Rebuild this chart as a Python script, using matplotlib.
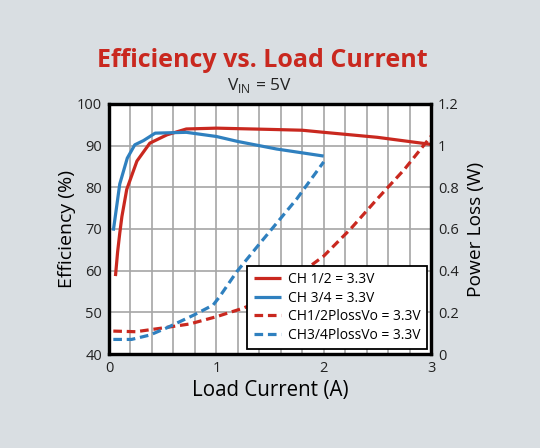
import matplotlib
matplotlib.use('Agg')
import matplotlib.pyplot as plt

plt.rcParams['font.family'] = ['Open Sans', 'DejaVu Sans']

# efficiency (%) vs load current (A)
ch12_current = [0.06, 0.08, 0.1, 0.12, 0.165, 0.26, 0.38, 0.54, 0.72, 1.0, 1.5, 1.8, 2.0, 2.5, 3.0]
ch12_eff = [58.7, 64.5, 69.0, 73.0, 79.5, 86.3, 90.6, 92.6, 94.0, 94.2, 93.9, 93.7, 93.2, 92.0, 90.3]
ch34_current = [0.04, 0.1, 0.17, 0.24, 0.32, 0.43, 0.72, 1.0, 1.2, 1.56, 2.0]
ch34_eff = [69.6, 80.8, 87.0, 90.2, 91.2, 93.0, 93.2, 92.2, 91.0, 89.2, 87.5]

# power loss (W)
ch12_loss_current = [0.04, 0.25, 0.5, 0.75, 1.0, 1.25, 1.5, 1.75, 2.0, 2.25, 2.5, 2.75, 3.0]
ch12_loss = [0.11, 0.107, 0.125, 0.144, 0.179, 0.22, 0.275, 0.375, 0.47, 0.6, 0.745, 0.885, 1.045]
ch34_loss_current = [0.04, 0.21, 0.38, 0.54, 0.79, 0.97, 1.03, 1.19, 1.38, 1.56, 1.75, 2.0]
ch34_loss = [0.07, 0.07, 0.091, 0.126, 0.187, 0.235, 0.275, 0.395, 0.515, 0.627, 0.745, 0.922]

red = '#c9281f'
blue = '#2f80bf'
bg = '#d9dee2'

fig = plt.figure(figsize=(5.4, 4.48), dpi=100, facecolor=bg)
ax = fig.add_axes([0.2019, 0.2098, 0.5963, 0.5581])
ax2 = ax.twinx()

l1, = ax.plot(ch12_current, ch12_eff, color=red, lw=2.3, solid_capstyle='butt', label='CH 1/2 = 3.3V')
l2, = ax.plot(ch34_current, ch34_eff, color=blue, lw=2.3, solid_capstyle='butt', label='CH 3/4 = 3.3V')
l3, = ax2.plot(ch12_loss_current, ch12_loss, color=red, lw=2.3, dashes=(2.7, 1.5), label='CH1/2PlossVo = 3.3V')
l4, = ax2.plot(ch34_loss_current, ch34_loss, color=blue, lw=2.3, dashes=(2.7, 1.5), label='CH3/4PlossVo = 3.3V')

ax.set_xlim(0, 3)
ax.set_ylim(40, 100)
ax2.set_ylim(0, 1.2)
ax.set_xticks([0, 1, 2, 3])
ax.set_xticks([i * 0.2 for i in range(16)], minor=True)
ax.set_yticks(range(40, 101, 10))
ax2.set_yticks([0, 0.2, 0.4, 0.6, 0.8, 1.0, 1.2])
ax2.set_yticklabels(['0', '0.2', '0.4', '0.6', '0.8', '1', '1.2'])

ax.grid(True, which='both', axis='x', color='#a6a6a6', lw=1.2)
ax.grid(True, which='major', axis='y', color='#a6a6a6', lw=1.2)
ax.set_axisbelow(True)

ax.tick_params(which='both', length=0, labelsize=10.5, pad=5, colors='#222222')
ax2.tick_params(length=0, labelsize=10.5, pad=5, colors='#222222')
for a in (ax, ax2):
    for s in a.spines.values():
        s.set_linewidth(2.3)
        s.set_color('black')

ax.set_xlabel('Load Current (A)', fontsize=14.8, labelpad=3)
ax.set_ylabel('Efficiency (%)', fontsize=14, labelpad=1)
ax2.set_ylabel('Power Loss (W)', fontsize=13.8, labelpad=6)

leg = ax2.legend(handles=[l1, l2, l3, l4], loc='lower right', bbox_to_anchor=(0.988, 0.02),
                 borderaxespad=0, fontsize=10, handlelength=2.0, handletextpad=0.5,
                 labelspacing=0.25, borderpad=0.45, fancybox=False, framealpha=1)
leg.get_frame().set_edgecolor('black')
leg.get_frame().set_linewidth(1.3)

fig.text(0.485, 0.866, 'Efficiency vs. Load Current', ha='center', va='center',
         fontsize=18, fontweight='bold', color=red)
fig.text(0.48, 0.81, r'V$_{\mathregular{IN}}$ = 5V', ha='center', va='center', fontsize=12.5, color='#222222')

fig.savefig('out.png', dpi=100, facecolor=bg)
